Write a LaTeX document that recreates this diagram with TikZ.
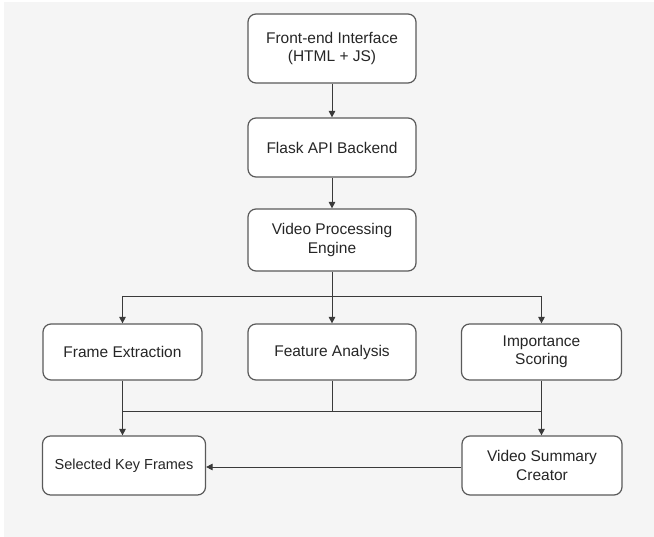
\documentclass[tikz,border=0pt]{standalone}
\usepackage{fontspec}
\setmainfont{Liberation Sans}
\usetikzlibrary{arrows.meta}
\definecolor{bggray}{HTML}{F5F5F5}
\definecolor{boxline}{HTML}{5A5A5A}
\definecolor{txt}{HTML}{262626}
\definecolor{conn}{HTML}{3A3A3A}
\begin{document}
\begin{tikzpicture}[x=1pt,y=-1pt,
  box/.style={draw=boxline, line width=1.2pt, fill=white, rounded corners=8pt,
    text=txt, align=center, font=\fontsize{15.5}{18.5}\selectfont, inner sep=0pt},
  conline/.style={draw=conn, line width=0.9pt},
  arr/.style={conline, -{Triangle[length=6.5pt,width=6.5pt]}}]
\useasboundingbox (0,0) rectangle (654,537);
\fill[white] (0,0) rectangle (654,537);
\fill[bggray] (4,2) rectangle (654,537);

\node[box, minimum width=168pt, minimum height=69pt] (fe) at (332,48.5) {Front-end Interface\\(HTML + JS)};
\node[box, minimum width=168pt, minimum height=59pt] (fl) at (332,147.5) {Flask API Backend};
\node[box, minimum width=168pt, minimum height=62pt] (vp) at (332,240) {Video Processing\\Engine};
\node[box, minimum width=159pt, minimum height=56pt] (fx) at (122.5,352) {Frame Extraction};
\node[box, minimum width=168pt, minimum height=56pt] (fa) at (332,352) {Feature Analysis};
\node[box, minimum width=160pt, minimum height=56pt] (is) at (541.5,352) {Importance\\Scoring};
\node[box, minimum width=163pt, minimum height=59pt, font=\fontsize{14.5}{17}\selectfont] (sk) at (124,465.5) {Selected Key Frames};
\node[box, minimum width=160pt, minimum height=59pt] (vs) at (542,465.5) {Video Summary\\Creator};

\coordinate (split) at (332,296);
\coordinate (sl) at (122.5,296);
\coordinate (sr) at (541.5,296);
\coordinate (ml) at (122.5,411);
\coordinate (mm) at (332,411);
\coordinate (mr) at (541.5,411);

\draw[arr] (fe.south) -- (fl.north);
\draw[arr] (fl.south) -- (vp.north);
\draw[conline] (vp.south) -- (split);
\draw[conline] (sl) -- (sr);
\draw[arr] (sl) -- (fx.north);
\draw[arr] (split) -- (fa.north);
\draw[arr] (sr) -- (is.north);

\draw[conline] (fx.south) -- (ml);
\draw[conline] (fa.south) -- (mm);
\draw[conline] (is.south) -- (mr);
\draw[conline] (ml) -- (mr);
\draw[arr] (ml) -- (ml |- sk.north);
\draw[arr] (mr) -- (mr |- vs.north);
\draw[arr] (vs.west |- 0,467) -- (sk.east |- 0,467);
\end{tikzpicture}
\end{document}
